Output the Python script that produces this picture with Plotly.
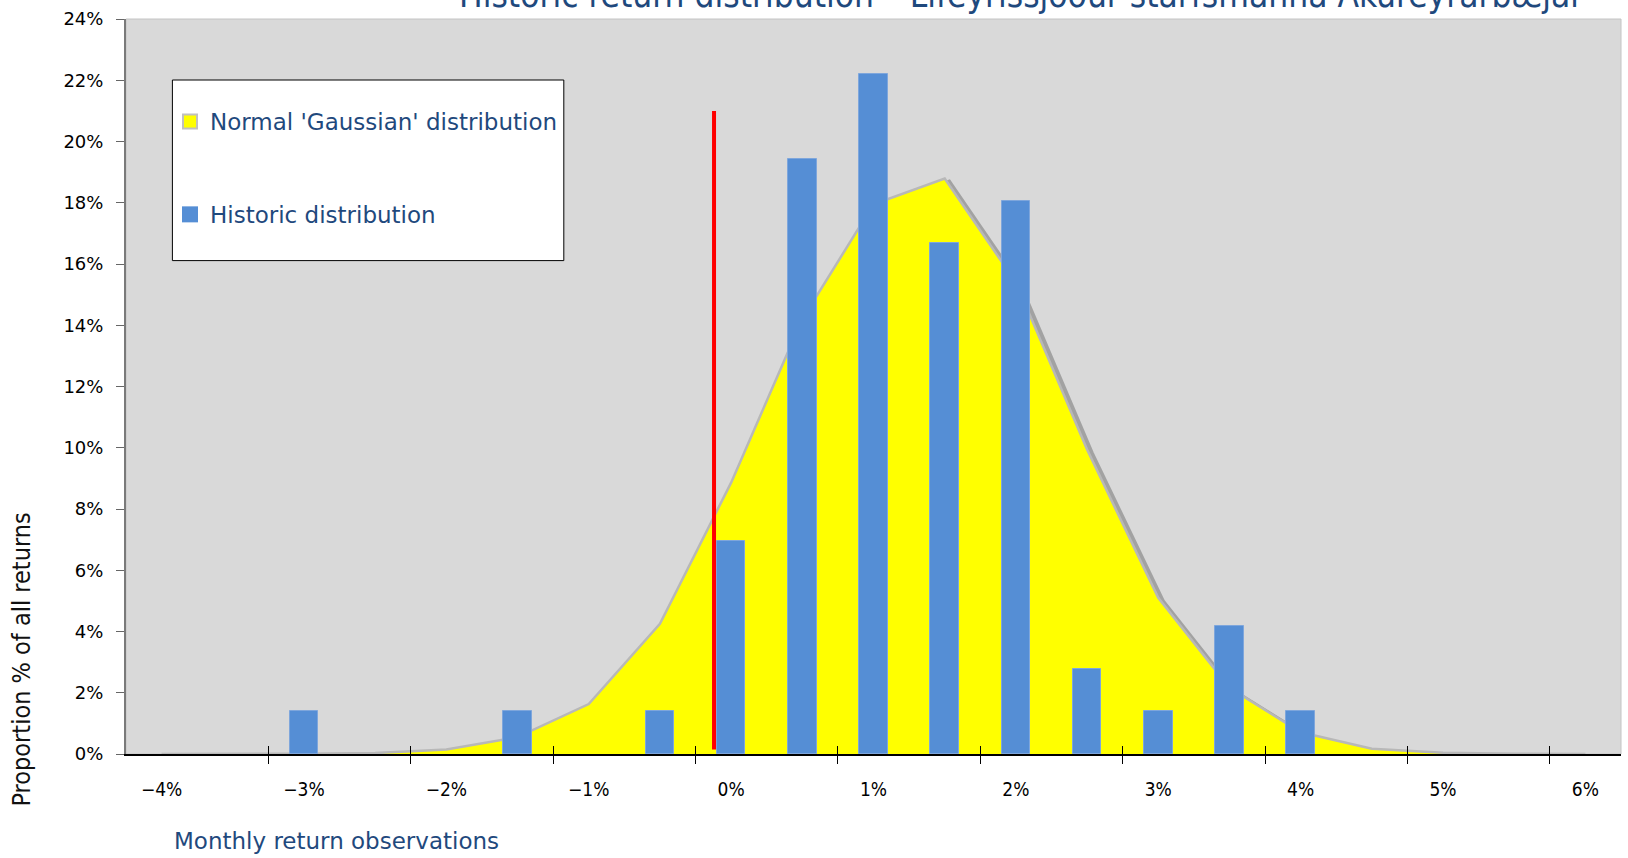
import plotly.graph_objects as go

# ---- data ----
bin_centers = [-3.0, -1.5, -0.5, 0.0, 0.5, 1.0, 1.5, 2.0, 2.5, 3.0, 3.5, 4.0]
historic_pct = [1.39, 1.39, 1.39, 6.94, 19.44, 22.22, 16.67, 18.06, 2.78, 1.39, 4.17, 1.39]

normal_x = [-4.0, -3.5, -3.0, -2.5, -2.0, -1.5, -1.0, -0.5, 0.0, 0.5, 1.0,
            1.5, 2.0, 2.5, 3.0, 3.5, 4.0, 4.5, 5.0, 5.5, 6.0]
normal_pct = [0.0, 0.0, 0.01, 0.03, 0.15, 0.55, 1.63, 4.25, 8.86, 14.2, 17.95,
              18.79, 15.4, 9.94, 5.1, 2.16, 0.71, 0.17, 0.04, 0.01, 0.0]

marker_x = [-0.12, -0.12]          # red reference line
marker_y = [0.15, 21.0]

x_label_vals = [-4, -3, -2, -1, 0, 1, 2, 3, 4, 5, 6]
x_label_text = ["\u22124%", "\u22123%", "\u22122%", "\u22121%", "0%", "1%", "2%", "3%", "4%", "5%", "6%"]
x_tick_marks = [-3.25, -2.25, -1.25, -0.25, 0.75, 1.75, 2.75, 3.75, 4.75, 5.75]
y_tick_vals = [0, 2, 4, 6, 8, 10, 12, 14, 16, 18, 20, 22, 24]
y_tick_text = [f"{v}%" for v in y_tick_vals]

title_text = "Historic return distribution \u2013 Lífeyrissjóður starfsmanna Akureyrarbæjar"
legend_names = ["Normal 'Gaussian' distribution", "Historic distribution"]

# ---- styling ----
W, H = 1628, 858
ML, MR, MT, MB = 126, 7, 19, 104
PW, PH = W - ML - MR, H - MT - MB
BLUE_TXT = "#1f497d"
COND = "DejaVu Sans Condensed, Liberation Sans Narrow, sans-serif"
WIDE = "DejaVu Sans, Verdana, sans-serif"

def px_x(p):
    return (p - ML) / PW

def px_y(p):
    return (MT + PH - p) / PH

fig = go.Figure()

# shadow of the normal curve
fig.add_trace(go.Scatter(
    x=[v + 0.03 for v in normal_x], y=[v - 0.12 for v in normal_pct],
    mode="lines", line=dict(color="rgba(0,0,0,0.25)", width=5),
    hoverinfo="skip", showlegend=False, xaxis="x", yaxis="y"))

# normal distribution area
fig.add_trace(go.Scatter(
    x=normal_x, y=normal_pct, mode="lines", fill="tozeroy",
    fillcolor="#ffff00", line=dict(color="#b8b8b8", width=2.5),
    name=legend_names[0], showlegend=False, xaxis="x", yaxis="y"))

# legend entries
fig.add_trace(go.Scatter(
    x=[None], y=[None], mode="markers", name=legend_names[0], legendgroup="a",
    marker=dict(symbol="square", size=14, color="#ffff00",
                line=dict(color="#c0c0c0", width=2)), xaxis="x", yaxis="y"))
fig.add_trace(go.Scatter(
    x=[None], y=[None], mode="markers", name=legend_names[1], legendgroup="b",
    marker=dict(symbol="square", size=16, color="#558ed5",
                line=dict(color="#558ed5", width=0)), xaxis="x", yaxis="y"))

# historic distribution bars (overlay subplot so they sit above the area)
fig.add_trace(go.Bar(
    x=bin_centers, y=historic_pct, width=0.2, name=legend_names[1],
    marker=dict(color="#558ed5", line=dict(color="#7ea6dc", width=1)),
    showlegend=False, xaxis="x2", yaxis="y2"))

# red reference line
fig.add_trace(go.Scatter(
    x=marker_x, y=marker_y, mode="lines", line=dict(color="#ff0000", width=4),
    showlegend=False, hoverinfo="skip", xaxis="x2", yaxis="y2"))

xr = [-4.25, 6.25]
fig.update_layout(
    width=W, height=H,
    margin=dict(l=ML, r=MR, t=MT, b=MB, autoexpand=False),
    paper_bgcolor="white", plot_bgcolor="#d9d9d9",
    bargap=0, showlegend=True,
    xaxis=dict(range=xr, tickmode="array", tickvals=x_label_vals, ticktext=x_label_text,
               ticks="outside", ticklen=0, showgrid=False, zeroline=False,
               showline=True, linecolor="#000000", linewidth=1.5,
               tickfont=dict(family=COND, size=19, color="#000000"),
               ticklabelstandoff=17,
               minor=dict(tickmode="array", tickvals=x_tick_marks, ticks="outside",
                          ticklen=8, tickwidth=1, tickcolor="#000000", showgrid=False)),
    xaxis2=dict(range=xr, overlaying="x", anchor="y2", tickmode="array",
                tickvals=x_tick_marks, ticks="inside", ticklen=8, tickwidth=1,
                tickcolor="#000000", showticklabels=False, showgrid=False,
                zeroline=False, showline=False),
    yaxis=dict(range=[0, 24], tickmode="array", tickvals=y_tick_vals, ticktext=y_tick_text,
               ticks="outside", ticklen=8, tickwidth=1, tickcolor="#666666",
               showgrid=False, zeroline=False, showline=True, linecolor="#7a7a7a",
               linewidth=2, tickfont=dict(family=WIDE, size=18, color="#000000"),
               ticklabelstandoff=9),
    yaxis2=dict(range=[0, 24], overlaying="y", visible=False),
    legend=dict(x=px_x(170), y=px_y(100), xanchor="left", yanchor="top",
                bgcolor="rgba(0,0,0,0)", borderwidth=0, tracegroupgap=60,
                traceorder="grouped", itemsizing="trace",
                font=dict(family=WIDE, size=23, color=BLUE_TXT)),
    shapes=[
        dict(type="rect", xref="paper", yref="paper", x0=0, x1=1, y0=0, y1=1,
             line=dict(color="#c4c4c4", width=1), fillcolor="rgba(0,0,0,0)", layer="below"),
        dict(type="rect", xref="paper", yref="paper",
             x0=px_x(172.4), x1=px_x(563.8), y0=px_y(260.6), y1=px_y(80),
             line=dict(color="#000000", width=1), fillcolor="#ffffff", layer="above"),
    ],
    annotations=[
        dict(text=title_text, xref="paper", yref="paper", x=px_x(1021), y=1,
             xanchor="center", yanchor="bottom", yshift=2, showarrow=False,
             font=dict(family=COND, size=35, color=BLUE_TXT)),
        dict(text="Monthly return observations", xref="paper", yref="paper",
             x=px_x(172), y=px_y(841), xanchor="left", yanchor="middle", showarrow=False,
             font=dict(family=WIDE, size=23, color=BLUE_TXT)),
        dict(text="Proportion % of all returns", xref="paper", yref="paper",
             x=px_x(21), y=px_y(659.5), xanchor="center", yanchor="middle",
             textangle=-90, showarrow=False,
             font=dict(family=COND, size=25, color="#111111")),
    ],
)

fig.write_html("out.html", config={"displayModeBar": False},
               post_script="document.body.style.margin='0px';document.body.style.overflow='hidden';")
